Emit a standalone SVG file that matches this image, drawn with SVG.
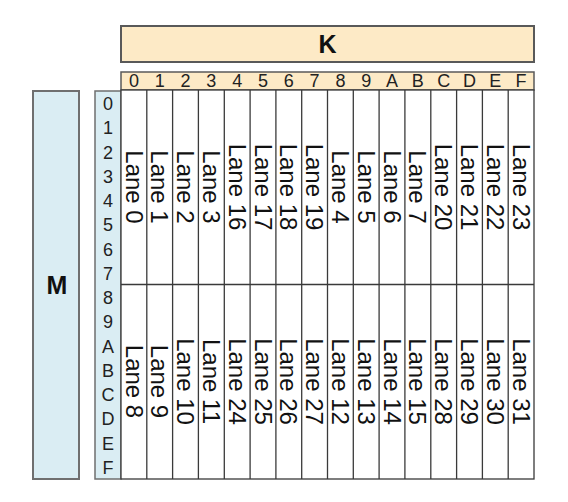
<svg xmlns="http://www.w3.org/2000/svg" width="568" height="502" viewBox="0 0 568 502">
<style>
.bg{fill:#ffffff}
.kbox{fill:#FDEAC6;stroke:#595959;stroke-width:2}
.mbox{fill:#DAEDF3;stroke:#6f6f6f;stroke-width:2}
.hdr{fill:#FDEAC6;stroke:#595959;stroke-width:1.5}
.rlab{fill:#DAEDF3;stroke:#6f6f6f;stroke-width:1.5}
.cell{fill:#ffffff;stroke:#3a3a3a;stroke-width:1.3}
.gl{stroke:#3a3a3a;stroke-width:1.3;fill:none}
.big{font-family:"Liberation Sans",Arial,sans-serif;font-weight:bold;font-size:25px;fill:#111;text-anchor:middle}
.idx{font-family:"Liberation Sans",Arial,sans-serif;font-size:18px;fill:#222;text-anchor:middle}
.lane{font-family:"Liberation Sans",Arial,sans-serif;font-size:24px;fill:#111;text-anchor:middle}
</style>
<rect class="bg" x="0" y="0" width="568" height="502"/>
<g id="K">
<rect class="kbox" x="121" y="26" width="413" height="36"/>
<text class="big" x="327.5" y="53">K</text>
</g>
<g id="M">
<rect class="mbox" x="33" y="91" width="46" height="388"/>
<text class="big" x="57" y="294" font-size="26">M</text>
</g>
<g id="col-header">
<rect class="hdr" x="121" y="72" width="413" height="18"/>
<text class="idx" x="133.9" y="86.5">0</text>
<text class="idx" x="159.7" y="86.5">1</text>
<text class="idx" x="185.5" y="86.5">2</text>
<text class="idx" x="211.3" y="86.5">3</text>
<text class="idx" x="237.2" y="86.5">4</text>
<text class="idx" x="263.0" y="86.5">5</text>
<text class="idx" x="288.8" y="86.5">6</text>
<text class="idx" x="314.6" y="86.5">7</text>
<text class="idx" x="340.4" y="86.5">8</text>
<text class="idx" x="366.2" y="86.5">9</text>
<text class="idx" x="392.0" y="86.5">A</text>
<text class="idx" x="417.8" y="86.5">B</text>
<text class="idx" x="443.7" y="86.5">C</text>
<text class="idx" x="469.5" y="86.5">D</text>
<text class="idx" x="495.3" y="86.5">E</text>
<text class="idx" x="521.1" y="86.5">F</text>
</g>
<g id="row-header">
<rect class="rlab" x="95" y="91" width="26" height="388"/>
<text class="idx" x="108" y="110">0</text>
<text class="idx" x="108" y="134.2">1</text>
<text class="idx" x="108" y="158.5">2</text>
<text class="idx" x="108" y="182.7">3</text>
<text class="idx" x="108" y="207">4</text>
<text class="idx" x="108" y="231.2">5</text>
<text class="idx" x="108" y="255.5">6</text>
<text class="idx" x="108" y="279.7">7</text>
<text class="idx" x="108" y="304">8</text>
<text class="idx" x="108" y="328.2">9</text>
<text class="idx" x="108" y="352.5">A</text>
<text class="idx" x="108" y="376.7">B</text>
<text class="idx" x="108" y="401">C</text>
<text class="idx" x="108" y="425.2">D</text>
<text class="idx" x="108" y="449.5">E</text>
<text class="idx" x="108" y="473.7">F</text>
</g>
<g id="grid">
<rect class="cell" x="121" y="90" width="413" height="389"/>
<line class="gl" x1="121" y1="284.5" x2="534" y2="284.5"/>
<line class="gl" x1="146.8" y1="90" x2="146.8" y2="479"/>
<line class="gl" x1="172.6" y1="90" x2="172.6" y2="479"/>
<line class="gl" x1="198.4" y1="90" x2="198.4" y2="479"/>
<line class="gl" x1="224.3" y1="90" x2="224.3" y2="479"/>
<line class="gl" x1="250.1" y1="90" x2="250.1" y2="479"/>
<line class="gl" x1="275.9" y1="90" x2="275.9" y2="479"/>
<line class="gl" x1="301.7" y1="90" x2="301.7" y2="479"/>
<line class="gl" x1="327.5" y1="90" x2="327.5" y2="479"/>
<line class="gl" x1="353.3" y1="90" x2="353.3" y2="479"/>
<line class="gl" x1="379.1" y1="90" x2="379.1" y2="479"/>
<line class="gl" x1="404.9" y1="90" x2="404.9" y2="479"/>
<line class="gl" x1="430.8" y1="90" x2="430.8" y2="479"/>
<line class="gl" x1="456.6" y1="90" x2="456.6" y2="479"/>
<line class="gl" x1="482.4" y1="90" x2="482.4" y2="479"/>
<line class="gl" x1="508.2" y1="90" x2="508.2" y2="479"/>
</g>
<g id="lanes-upper">
<text class="lane" transform="translate(125.5,187) rotate(90)">Lane 0</text>
<text class="lane" transform="translate(151.3,187) rotate(90)">Lane 1</text>
<text class="lane" transform="translate(177.1,187) rotate(90)">Lane 2</text>
<text class="lane" transform="translate(202.9,187) rotate(90)">Lane 3</text>
<text class="lane" transform="translate(228.8,187) rotate(90)">Lane 16</text>
<text class="lane" transform="translate(254.6,187) rotate(90)">Lane 17</text>
<text class="lane" transform="translate(280.4,187) rotate(90)">Lane 18</text>
<text class="lane" transform="translate(306.2,187) rotate(90)">Lane 19</text>
<text class="lane" transform="translate(332.0,187) rotate(90)">Lane 4</text>
<text class="lane" transform="translate(357.8,187) rotate(90)">Lane 5</text>
<text class="lane" transform="translate(383.6,187) rotate(90)">Lane 6</text>
<text class="lane" transform="translate(409.4,187) rotate(90)">Lane 7</text>
<text class="lane" transform="translate(435.3,187) rotate(90)">Lane 20</text>
<text class="lane" transform="translate(461.1,187) rotate(90)">Lane 21</text>
<text class="lane" transform="translate(486.9,187) rotate(90)">Lane 22</text>
<text class="lane" transform="translate(512.7,187) rotate(90)">Lane 23</text>
</g>
<g id="lanes-lower">
<text class="lane" transform="translate(125.5,381.5) rotate(90)">Lane 8</text>
<text class="lane" transform="translate(151.3,381.5) rotate(90)">Lane 9</text>
<text class="lane" transform="translate(177.1,381.5) rotate(90)">Lane 10</text>
<text class="lane" transform="translate(202.9,381.5) rotate(90)">Lane 11</text>
<text class="lane" transform="translate(228.8,381.5) rotate(90)">Lane 24</text>
<text class="lane" transform="translate(254.6,381.5) rotate(90)">Lane 25</text>
<text class="lane" transform="translate(280.4,381.5) rotate(90)">Lane 26</text>
<text class="lane" transform="translate(306.2,381.5) rotate(90)">Lane 27</text>
<text class="lane" transform="translate(332.0,381.5) rotate(90)">Lane 12</text>
<text class="lane" transform="translate(357.8,381.5) rotate(90)">Lane 13</text>
<text class="lane" transform="translate(383.6,381.5) rotate(90)">Lane 14</text>
<text class="lane" transform="translate(409.4,381.5) rotate(90)">Lane 15</text>
<text class="lane" transform="translate(435.3,381.5) rotate(90)">Lane 28</text>
<text class="lane" transform="translate(461.1,381.5) rotate(90)">Lane 29</text>
<text class="lane" transform="translate(486.9,381.5) rotate(90)">Lane 30</text>
<text class="lane" transform="translate(512.7,381.5) rotate(90)">Lane 31</text>
</g>
</svg>
